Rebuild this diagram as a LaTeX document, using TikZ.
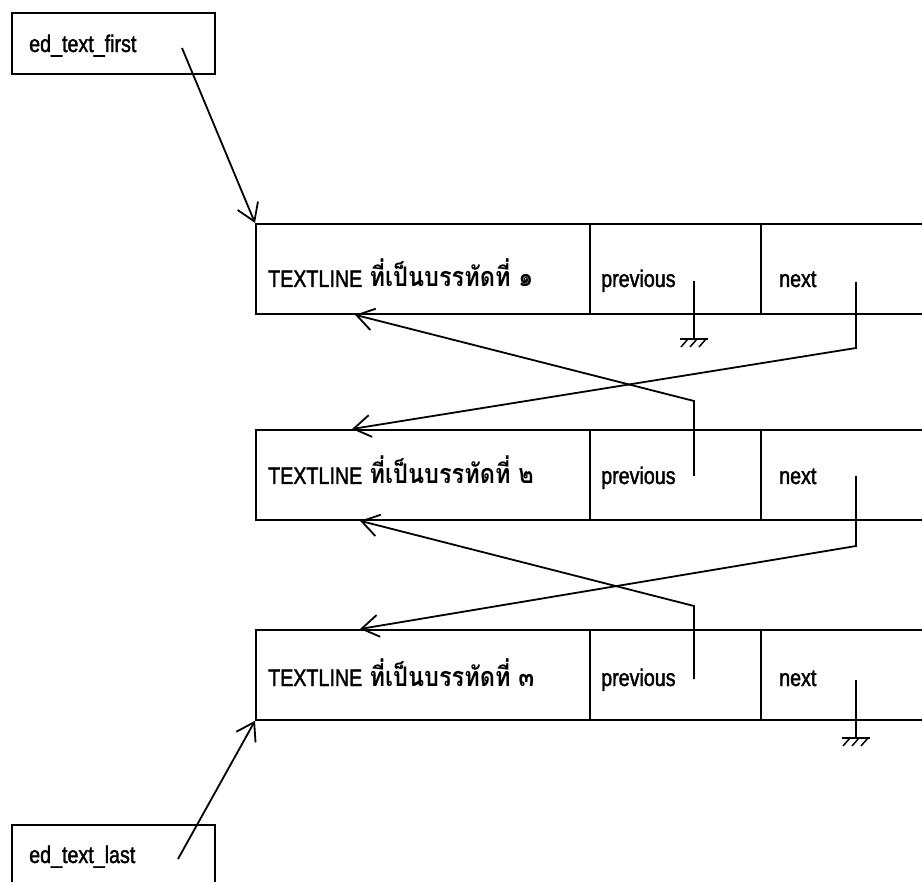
\documentclass[tikz,border=0pt]{standalone}
\usepackage{fontspec}
\setmainfont{Liberation Sans}[FakeStretch=0.82,FakeBold=1.6]
\newfontfamily\thaifont[Script=Thai,FakeStretch=0.87]{Loma}
\usetikzlibrary{arrows.meta,calc}
\tikzset{
  cell/.style={draw, line width=1.8pt, rectangle, inner sep=0pt, anchor=north west, minimum height=90pt},
  namebox/.style={draw, line width=1.8pt, rectangle, inner sep=0pt, anchor=north west, minimum width=203pt},
  txt/.style={inner sep=0pt, anchor=base west, font=\fontsize{24}{28}\selectfont},
  thai/.style={inner sep=0pt, anchor=base west, font=\fontsize{27}{30}\selectfont\thaifont\bfseries},
  ptr/.style={-{Straight Barb[length=17pt,width=22pt]}, line width=1.8pt},
  wire/.style={line width=1.8pt},
  ground/.pic={
    \draw[line width=1.8pt] (-14,0) -- (14,0);
    \foreach \i in {-6,3,12} \draw[line width=1.5pt] (\i,0) -- (\i-7,8);
  }
}
\begin{document}
\begin{tikzpicture}[x=1pt,y=-1pt]
\useasboundingbox[fill=white] (0,0) rectangle (922,882);
% name boxes
\node[namebox, minimum height=61pt] (first) at (11,12) {};
\node[txt] (firstlbl) at (29,52) {ed\_text\_first};
\node[namebox, minimum height=80pt] (last) at (11,824) {};
\node[txt] (lastlbl) at (29,863) {ed\_text\_last};
% records
\foreach \r/\top/\base/\d in {1/223/287/๑, 2/429/484/๒, 3/629/686/๓} {
  \node[cell, minimum width=334pt] (t\r) at (255,\top) {};
  \node[cell, minimum width=171pt] (p\r) at (589,\top) {};
  \node[cell, minimum width=190pt] (n\r) at (760,\top) {};
  \node[txt] (tl\r) at (268,\base) {TEXTLINE};
  \node[thai] (th\r) at ($(tl\r.base east)+(7,0)$) {ที่เป็นบรรทัดที่ \d};
  \node[txt] (pl\r) at (601,\base) {previous};
  \node[txt] (nl\r) at (779,\base) {next};
}
% pointer coordinates
\coordinate (f0) at (182,48);
\coordinate (l0) at (178,859);
\coordinate (p1s) at (694,281); \coordinate (p1g) at (694,339);
\coordinate (n1s) at (856,282); \coordinate (n1b) at (856,348);
\coordinate (p2s) at (694,476); \coordinate (p2b) at (694,401);
\coordinate (n2s) at (856,476); \coordinate (n2b) at (856,546);
\coordinate (p3s) at (694,679); \coordinate (p3b) at (694,606);
\coordinate (n3s) at (856,680); \coordinate (n3g) at (856,738);
\coordinate (a2top) at ($(t2.north west)+(97,0)$);
\coordinate (a1bot) at ($(t1.south west)+(100,0)$);
\coordinate (a3top) at ($(t3.north west)+(105,0)$);
\coordinate (a2bot) at ($(t2.south west)+(105,0)$);
% connectors
\draw[ptr] (f0) -- (t1.north west);
\draw[ptr] (l0) -- (t3.south west);
\draw[wire] (p1s) -- (p1g);
\pic at (p1g) {ground};
\draw[ptr] (n1s) -- (n1b) -- (a2top);
\draw[ptr] (p2s) -- (p2b) -- (a1bot);
\draw[ptr] (n2s) -- (n2b) -- (a3top);
\draw[ptr] (p3s) -- (p3b) -- (a2bot);
\draw[wire] (n3s) -- (n3g);
\pic at (n3g) {ground};
\end{tikzpicture}
\end{document}
